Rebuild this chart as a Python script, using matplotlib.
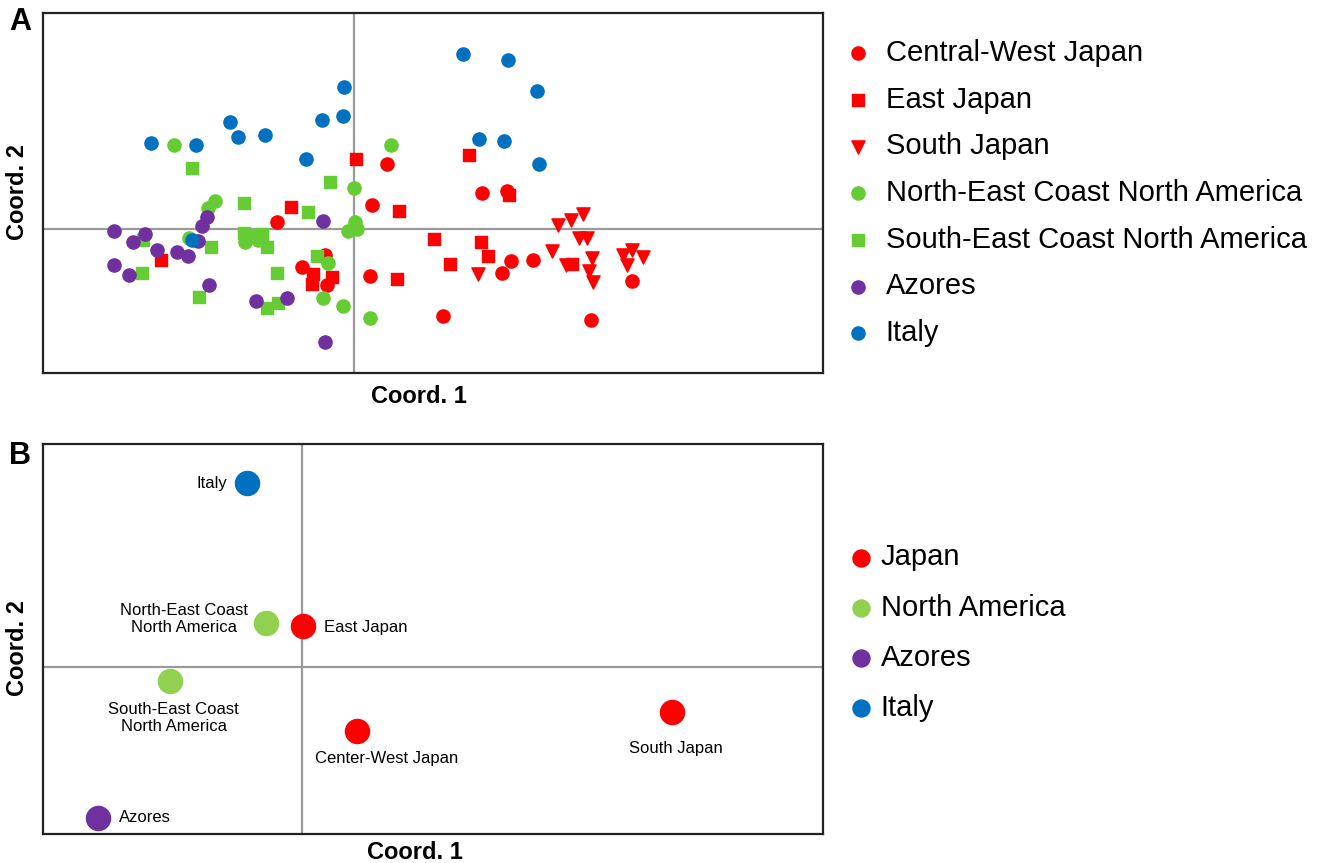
import numpy as np
import matplotlib.pyplot as plt

plt.rcParams['font.family'] = ['Liberation Sans', 'DejaVu Sans']

# ---- Panel A: individual samples (Coord. 1, Coord. 2) ----
cw_japan_x = [-0.77, -0.52, -0.27, -0.29, 0.33, 1.28, 1.53, 0.18, 0.16, 0.89, 1.48, 1.57, 1.79, 2.37, 2.78]
cw_japan_y = [0.07, -0.38, -0.56, -0.26, 0.65, 0.36, 0.38, 0.24, -0.47, -0.87, -0.44, -0.32, -0.31, -0.91, -0.52]

e_japan_x = [0.02, -0.63, -1.93, -0.41, -0.42, -0.22, 1.15, 1.55, 0.45, 0.80, 1.27, 1.34, 0.96, 0.43, 2.18]
e_japan_y = [0.70, 0.22, -0.31, -0.45, -0.55, -0.48, 0.74, 0.34, 0.18, -0.10, -0.13, -0.27, -0.35, -0.50, -0.35]

s_japan_x = [2.04, 2.17, 2.29, 2.25, 2.33, 1.98, 2.12, 2.38, 2.35, 2.39, 1.24, 2.69, 2.78, 2.89, 2.73]
s_japan_y = [0.04, 0.09, 0.15, -0.09, -0.09, -0.22, -0.36, -0.29, -0.42, -0.53, -0.45, -0.26, -0.21, -0.28, -0.36]

ne_na_x = [-1.80, 0.00, -1.39, -1.46, -1.65, 0.37, 0.01, -0.06, 0.03, -0.26, -0.31, -0.11, 0.16, -1.09, -0.96]
ne_na_y = [0.84, 0.41, 0.28, 0.21, -0.09, 0.84, 0.07, -0.02, 0.00, -0.34, -0.69, -0.77, -0.89, -0.13, -0.11]

se_na_x = [-1.62, -0.24, -1.10, -0.46, -1.43, -2.11, -2.12, -1.55, -0.77, -0.87, -0.76, -0.37, -1.10, -1.02, -0.92, -0.87]
se_na_y = [0.61, 0.47, 0.26, 0.17, -0.18, -0.11, -0.44, -0.68, -0.44, -0.79, -0.74, -0.27, -0.04, -0.07, -0.05, -0.18]

azores_x = [-2.40, -2.09, -2.21, -1.97, -1.77, -1.66, -2.40, -2.25, -1.47, -1.52, -1.56, -1.45, -0.98, -0.67, -0.31, -0.29]
azores_y = [-0.02, -0.05, -0.13, -0.21, -0.23, -0.27, -0.36, -0.46, 0.12, 0.03, -0.12, -0.56, -0.72, -0.69, 0.08, -1.13]

italy_x = [-2.03, -1.58, -1.24, -1.16, -0.89, -0.32, -0.11, -0.10, -0.48, -1.62, 1.09, 1.54, 1.83, 1.25, 1.50, 1.85]
italy_y = [0.86, 0.84, 1.07, 0.92, 0.94, 1.09, 1.13, 1.42, 0.70, -0.11, 1.75, 1.69, 1.38, 0.90, 0.88, 0.65]

# ---- Panel B: population centroids ----
pop_names = ['Italy', 'North-East Coast\nNorth America', 'East Japan', 'South-East Coast\nNorth America',
             'Center-West Japan', 'South Japan', 'Azores']
pop_x = [-0.55, -0.36, 0.01, -1.32, 0.55, 3.70, -2.04]
pop_y = [1.84, 0.44, 0.41, -0.14, -0.64, -0.45, -1.51]
pop_region = ['Italy', 'North America', 'Japan', 'North America', 'Japan', 'Japan', 'Azores']

RED = '#FF0000'
GREEN_A = '#66CC33'
GREEN_B = '#92D050'
PURPLE = '#7030A0'
BLUE = '#0070C0'
region_colors = {'Japan': RED, 'North America': GREEN_B, 'Azores': PURPLE, 'Italy': BLUE}

# label offsets (pixels) and alignment for panel B
label_style = {
    'Italy': ((-20, 0), 'right'),
    'North-East Coast\nNorth America': ((-82, 4), 'center'),
    'East Japan': ((21, -1), 'left'),
    'South-East Coast\nNorth America': ((4, -37), 'center'),
    'Center-West Japan': ((30, -27), 'center'),
    'South Japan': ((4, -36), 'center'),
    'Azores': ((21, 1), 'left'),
}

fig = plt.figure(figsize=(13.22, 8.63), dpi=100)

axA = fig.add_axes([0.0323, 0.5678, 0.5902, 0.4175])
axB = fig.add_axes([0.0323, 0.0336, 0.5902, 0.4519])

for ax in (axA, axB):
    ax.set_xticks([])
    ax.set_yticks([])
    for sp in ax.spines.values():
        sp.set_linewidth(1.6)
        sp.set_color('#222222')
    ax.axhline(0, color='#9a9a9a', lw=1.6, zorder=0)
    ax.axvline(0, color='#9a9a9a', lw=1.6, zorder=0)

# Panel A
axA.scatter(cw_japan_x, cw_japan_y, s=90, marker='o', color=RED, label='Central-West Japan', zorder=2)
axA.scatter(e_japan_x, e_japan_y, s=75, marker='s', color=RED, label='East Japan', zorder=2)
axA.scatter(s_japan_x, s_japan_y, s=90, marker='v', color=RED, label='South Japan', zorder=2)
axA.scatter(ne_na_x, ne_na_y, s=90, marker='o', color=GREEN_A, label='North-East Coast North America', zorder=3)
axA.scatter(se_na_x, se_na_y, s=75, marker='s', color=GREEN_A, label='South-East Coast North America', zorder=3)
axA.scatter(azores_x, azores_y, s=90, marker='o', color=PURPLE, label='Azores', zorder=4)
axA.scatter(italy_x, italy_y, s=90, marker='o', color=BLUE, label='Italy', zorder=5)
axA.set_xlim(-3.11, 4.69)
axA.set_ylim(-1.44, 2.16)

axA.legend(loc='upper left', bbox_to_anchor=(0.638, 0.955), bbox_transform=fig.transFigure,
           frameon=False, fontsize=21, labelspacing=0.64, handletextpad=0.45, handlelength=1.0,
           borderaxespad=0, borderpad=0)

# Panel B
for name, x, y, reg in zip(pop_names, pop_x, pop_y, pop_region):
    axB.scatter(x, y, s=300, color=region_colors[reg], zorder=3)
    off, ha = label_style[name]
    axB.annotate(name, (x, y), xytext=off, textcoords='offset pixels', ha=ha, va='center',
                 fontsize=12, linespacing=1.2)
axB.set_xlim(-2.59, 5.21)
axB.set_ylim(-1.67, 2.23)

handlesB = [axB.scatter([], [], s=150, color=c, label=r) for r, c in region_colors.items()]
axB.legend(handles=handlesB, loc='upper left', bbox_to_anchor=(0.640, 0.3704), bbox_transform=fig.transFigure,
           frameon=False, fontsize=21, labelspacing=0.76, handletextpad=0.19, handlelength=1.0,
           borderaxespad=0, borderpad=0)

# axis labels and panel letters
fig.text(0.317, 1 - 396 / 863, 'Coord. 1', ha='center', va='center', fontsize=17, fontweight='bold')
fig.text(0.314, 1 - 852 / 863, 'Coord. 1', ha='center', va='center', fontsize=17, fontweight='bold')
fig.text(18 / 1322, 1 - 192 / 863, 'Coord. 2', ha='center', va='center', rotation=90, fontsize=17, fontweight='bold')
fig.text(18 / 1322, 1 - 648 / 863, 'Coord. 2', ha='center', va='center', rotation=90, fontsize=17, fontweight='bold')
fig.text(20 / 1322, 1 - 22 / 863, 'A', ha='center', va='center', fontsize=22, fontweight='bold')
fig.text(20 / 1322, 1 - 456 / 863, 'B', ha='center', va='center', fontsize=22, fontweight='bold')

fig.savefig('out.png', dpi=100)
